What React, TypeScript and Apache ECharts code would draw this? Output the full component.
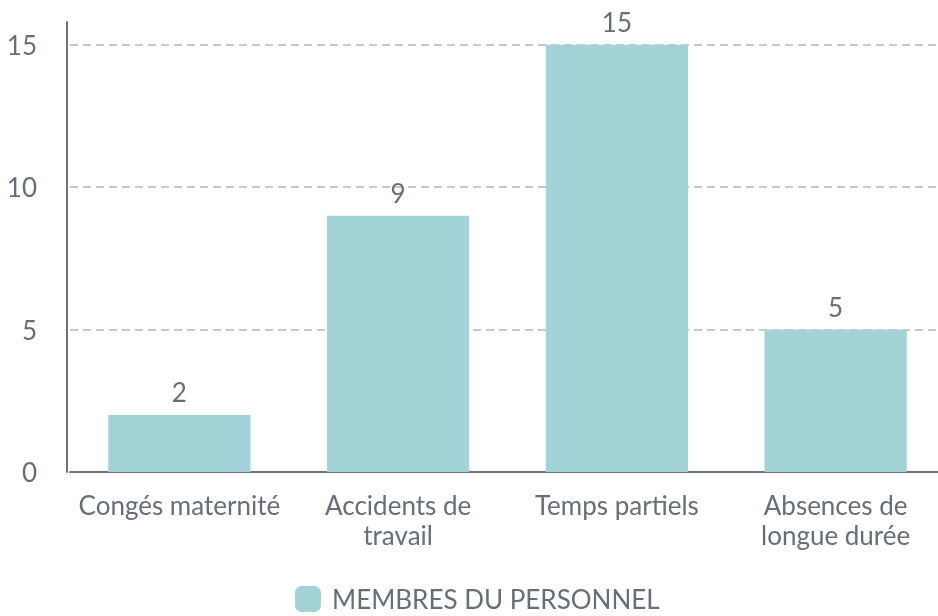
import React, { useEffect, useRef } from "react";
import * as echarts from "echarts";

const categories = ["Congés maternité", "Accidents de\ntravail", "Temps partiels", "Absences de\nlongue durée"];
const values = [2, 9, 15, 5];
const gridLineValues = [5, 10, 15];
const seriesName = "MEMBRES DU PERSONNEL";

const TEXT = "#666f79";
const AXIS = "#6b7480";
const GRID = "#b4b7bb";
const BAR = "#a3d3d6";
const FONT = "Lato";
const FS = 26;
const FW = 400;

export default function App() {
  const ref = useRef<HTMLDivElement>(null);
  useEffect(() => {
    if (!ref.current) return;
    const chart = echarts.init(ref.current, undefined, { renderer: "svg" });
    chart.setOption({
      animation: false,
      textStyle: { fontFamily: FONT },
      grid: { left: 70, width: 875, top: 22, bottom: 144, containLabel: false, outerBoundsMode: "none" },
      legend: {
        top: 581,
        left: 290,
        itemWidth: 26,
        itemHeight: 26,
        icon: "roundRect",
        textStyle: { color: TEXT, fontSize: FS, fontWeight: FW, fontFamily: FONT, padding: [0, 0, 0, 6] },
        data: [seriesName],
      },
      xAxis: {
        type: "category",
        data: categories,
        axisLine: { show: true, lineStyle: { color: AXIS, width: 2 } },
        axisTick: { show: false },
        axisLabel: { color: TEXT, fontSize: FS, fontWeight: FW, fontFamily: FONT, lineHeight: 30, margin: 18, interval: 0 },
      },
      yAxis: {
        type: "value",
        min: 0,
        max: 15.8,
        interval: 5,
        offset: 3,
        axisLine: { show: true, lineStyle: { color: AXIS, width: 2 } },
        axisTick: { show: false },
        splitLine: { show: false },
        axisLabel: { color: TEXT, fontSize: FS, fontWeight: FW, fontFamily: FONT, margin: 30, showMaxLabel: false },
      },
      series: [
        {
          name: seriesName,
          type: "bar",
          data: values,
          barWidth: "65%",
          z: 3,
          itemStyle: { color: BAR },
          label: { show: true, position: "top", distance: 10, color: TEXT, fontSize: FS, fontWeight: FW, fontFamily: FONT },
          markLine: {
            silent: true,
            symbol: "none",
            z: 1,
            label: { show: false },
            lineStyle: { color: GRID, type: [8, 5], width: 1.5 },
            data: gridLineValues.map((v) => ({ yAxis: v })),
          },
        },
      ],
    });
    return () => chart.dispose();
  }, []);
  return <div ref={ref} style={{ position: "fixed", left: 0, top: 0, width: 938, height: 616 }} />;
}
